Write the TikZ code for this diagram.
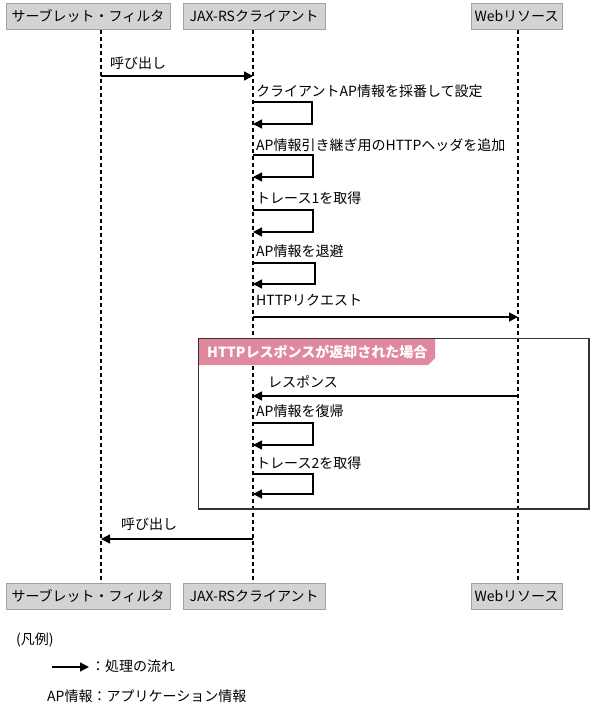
\documentclass[tikz,border=0pt]{standalone}
\usepackage{fontspec}
\setmainfont{Noto Sans CJK JP}
\usepackage{tikz}
\usetikzlibrary{arrows.meta,positioning}
\definecolor{boxgray}{HTML}{D3D3D3}
\definecolor{boxline}{HTML}{A3A3A3}
\definecolor{tabpink}{HTML}{E0899E}
\definecolor{frameline}{HTML}{333333}
\tikzstyle{arrow} = [-{Triangle[length=9pt,width=9pt]}, line width=1.4pt]
\tikzstyle{lifeline} = [dash pattern=on 4pt off 3pt, line width=1.1pt]
\tikzstyle{actor} = [rectangle, draw=boxline, line width=1pt, fill=boxgray,
   minimum height=26pt, inner sep=0pt, text centered]
\tikzstyle{msg} = [anchor=west, inner sep=0pt]
\begin{document}
\begin{tikzpicture}[x=1pt,y=-1pt, every node/.style={font=\fontsize{14pt}{16pt}\selectfont}]
\useasboundingbox (0,0) rectangle (590,715);

\node (servlet) [actor, minimum width=164pt] at (88,16) {サーブレット・フィルタ};
\node (jaxrs) [actor, minimum width=142pt] at (254,16) {JAX-RSクライアント};
\node (web) [actor, minimum width=91pt] at (516.5,16) {Webリソース};

\node (servletb) [actor, minimum width=164pt] at (88,596) {サーブレット・フィルタ};
\node (jaxrsb) [actor, minimum width=142pt] at (254,596) {JAX-RSクライアント};
\node (webb) [actor, minimum width=91pt] at (516.5,596) {Webリソース};

\draw [lifeline] ([xshift=13pt]servlet.south) -- ([xshift=13pt]servletb.north);
\draw [lifeline] ([xshift=-1pt]jaxrs.south) -- ([xshift=-1pt]jaxrsb.north);
\draw [lifeline] ([xshift=1.5pt]web.south) -- ([xshift=1.5pt]webb.north);

\node (alt) [draw=frameline, line width=1pt, minimum width=390pt, minimum height=170pt,
   anchor=north west, inner sep=0pt] at (198,338) {};
\fill [tabpink] (alt.north west) -- ++(237,0) -- ++(0,20) -- ++(-7,7) -- ++(-230,0) -- cycle;
\draw [frameline, line width=1pt] (alt.north west) rectangle (alt.south east);
\node (alttitle) [msg, text=white, font=\fontsize{14pt}{16pt}\selectfont\bfseries] at (207,352) {HTTPレスポンスが返却された場合};

\node (call) [msg] at (110,63) {呼び出し};
\coordinate (calls) at (101,76);
\coordinate (callj) at (253,76);
\draw [arrow] (calls) -- (callj);

\node (number) [msg] at (256,91) {クライアントAP情報を採番して設定};
\coordinate (numbera) at (253,102);
\coordinate (numberb) at (253,124);
\draw [arrow] (numbera) -- ++(59,0) |- (numberb);

\node (header) [msg] at (256,145) {AP情報引き継ぎ用のHTTPヘッダを追加};
\coordinate (headera) at (253,155);
\coordinate (headerb) at (253,177);
\draw [arrow] (headera) -- ++(60,0) |- (headerb);

\node (trace1) [msg] at (256,198) {トレース1を取得};
\coordinate (trace1a) at (253,210);
\coordinate (trace1b) at (253,232);
\draw [arrow] (trace1a) -- ++(60,0) |- (trace1b);

\node (save) [msg] at (256,251) {AP情報を退避};
\coordinate (savea) at (253,263);
\coordinate (saveb) at (253,284);
\draw [arrow] (savea) -- ++(62,0) |- (saveb);

\node (request) [msg] at (256,300) {HTTPリクエスト};
\coordinate (requestj) at (253,317);
\coordinate (requestw) at (518,317);
\draw [arrow] (requestj) -- (requestw);

\node (response) [msg] at (268,382) {レスポンス};
\coordinate (responsew) at (518,396);
\coordinate (responsej) at (253,396);
\draw [arrow] (responsew) -- (responsej);

\node (restore) [msg] at (256,411) {AP情報を復帰};
\coordinate (restorea) at (253,423);
\coordinate (restoreb) at (253,445);
\draw [arrow] (restorea) -- ++(60,0) |- (restoreb);

\node (trace2) [msg] at (256,463) {トレース2を取得};
\coordinate (trace2a) at (253,474);
\coordinate (trace2b) at (253,494);
\draw [arrow] (trace2a) -- ++(60,0) |- (trace2b);

\node (back) [msg] at (121,524) {呼び出し};
\coordinate (backj) at (253,539);
\coordinate (backs) at (101,539);
\draw [arrow] (backj) -- (backs);

\node (legend) [msg] at (16,640) {(凡例)};
\coordinate (legenda) at (52,667);
\coordinate (legendb) at (89,667);
\draw [arrow] (legenda) -- (legendb);
\node (flow) [msg] at (91,666) {：処理の流れ};
\node (abbr) [msg] at (47,696) {AP情報：アプリケーション情報};

\end{tikzpicture}
\end{document}
